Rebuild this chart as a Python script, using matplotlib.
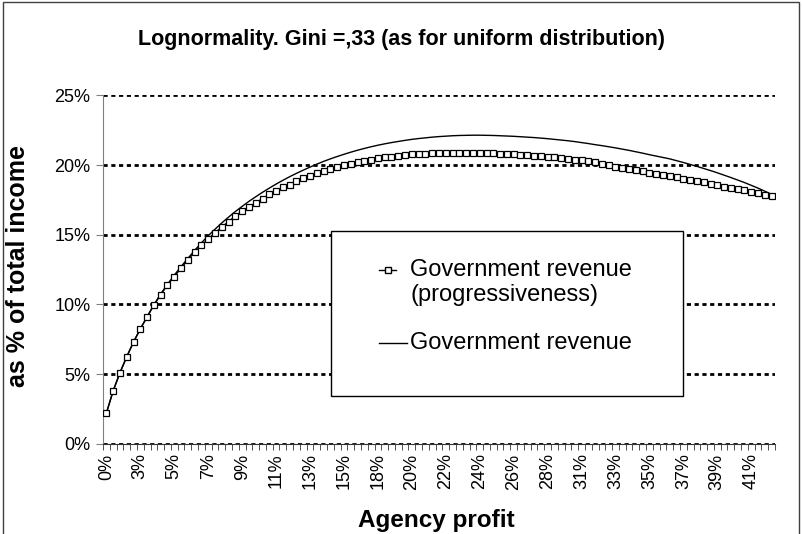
import matplotlib
matplotlib.use("Agg")
import matplotlib.pyplot as plt
from matplotlib.lines import Line2D
from matplotlib.patches import Rectangle
import numpy as np

plt.rcParams["font.family"] = ["Liberation Sans", "DejaVu Sans"]

# labels shown under every 5th category
tick_labels = ["0%", "3%", "5%", "7%", "9%", "11%", "13%", "15%", "18%", "20%",
               "22%", "24%", "26%", "28%", "31%", "33%", "35%", "37%", "39%", "41%"]

# Government revenue (progressiveness), % of total income
rev_prog = [
    2.2, 3.8, 5.1, 6.25, 7.3, 8.25, 9.1, 9.95, 10.7, 11.4,
    12.0, 12.6, 13.2, 13.75, 14.25, 14.7, 15.15, 15.55, 15.95, 16.35,
    16.7, 17.0, 17.3, 17.6, 17.9, 18.15, 18.4, 18.6, 18.85, 19.05,
    19.25, 19.4, 19.6, 19.75, 19.88, 20.0, 20.1, 20.2, 20.3, 20.4,
    20.48, 20.55, 20.62, 20.68, 20.73, 20.77, 20.8, 20.83, 20.86, 20.88,
    20.89, 20.9, 20.9, 20.9, 20.89, 20.88, 20.87, 20.85, 20.83, 20.8,
    20.78, 20.75, 20.72, 20.68, 20.64, 20.6, 20.55, 20.5, 20.45, 20.4,
    20.34, 20.28, 20.2, 20.1, 20.0, 19.9, 19.8, 19.72, 19.64, 19.55,
    19.47, 19.38, 19.3, 19.21, 19.12, 19.03, 18.94, 18.85, 18.76, 18.66,
    18.56, 18.46, 18.36, 18.27, 18.18, 18.08, 17.98, 17.88, 17.77,
]

# Government revenue, % of total income
rev_plain = [
    2.2, 3.8, 5.1, 6.25, 7.3, 8.25, 9.12, 9.98, 10.75, 11.45,
    12.1, 12.72, 13.3, 13.88, 14.42, 14.93, 15.4, 15.85, 16.27, 16.67,
    17.04, 17.4, 17.73, 18.05, 18.35, 18.64, 18.91, 19.17, 19.41, 19.64,
    19.86, 20.07, 20.27, 20.45, 20.62, 20.78, 20.93, 21.07, 21.2, 21.32,
    21.43, 21.53, 21.62, 21.7, 21.78, 21.85, 21.91, 21.96, 22.01, 22.05,
    22.08, 22.11, 22.13, 22.14, 22.15, 22.15, 22.14, 22.13, 22.11, 22.09,
    22.07, 22.04, 22.01, 21.98, 21.94, 21.9, 21.85, 21.8, 21.75, 21.69,
    21.62, 21.55, 21.47, 21.4, 21.32, 21.24, 21.15, 21.06, 20.96, 20.86,
    20.75, 20.65, 20.55, 20.45, 20.32, 20.19, 20.05, 19.91, 19.76, 19.61,
    19.45, 19.28, 19.11, 18.93, 18.75, 18.55, 18.35, 18.13, 17.9,
]

W, H = 802, 534


def fx(x):
    return x / W


def fy(y):
    return 1 - y / H


fig = plt.figure(figsize=(W / 100, H / 100), dpi=100)
ax = fig.add_axes([fx(103), fy(443.7), (775 - 103) / W, (443.7 - 95.5) / H])

n = len(rev_prog)
x = np.arange(n)
ax.plot(x, rev_plain, color="black", lw=1, zorder=2)
ax.plot(x, rev_prog, color="black", lw=1, marker="s", ms=5,
        mfc="white", mec="black", mew=0.9, zorder=3)

ax.set_xlim(-0.5, n - 0.5)
ax.set_ylim(0, 25)
ax.set_yticks(range(0, 26, 5))
ax.set_yticklabels([f"{v}%" for v in range(0, 26, 5)])
ax.yaxis.grid(True, color="black", linestyle=(0, (1.5, 1.3)), lw=2)
ax.set_axisbelow(True)

ax.set_xticks(x[::5])
ax.set_xticklabels(tick_labels, rotation=90)
ax.set_xticks(np.arange(-0.5, n), minor=True)
ax.tick_params(axis="x", which="major", length=0, pad=7, labelsize=13)
ax.tick_params(axis="x", which="minor", length=4, color="#333333")
ax.tick_params(axis="y", length=5, color="#808080", labelsize=13, pad=4)

for s in ["top", "right"]:
    ax.spines[s].set_visible(False)
ax.spines["left"].set_color("#808080")
ax.spines["bottom"].set_color("#333333")

# titles
fig.text(fx(401), fy(40), "Lognormality. Gini =,33 (as for uniform distribution)",
         ha="center", va="center", fontsize=15.5, fontweight="bold")
fig.text(fx(18), fy(266), "as % of total income", rotation=90,
         ha="center", va="center", fontsize=18, fontweight="bold")
fig.text(fx(436), fy(521), "Agency profit", ha="center", va="center",
         fontsize=17.5, fontweight="bold")

# legend box drawn by hand, Excel style
fig.add_artist(Rectangle((fx(331), fy(396)), (683 - 331) / W, (396 - 231) / H,
                         transform=fig.transFigure, fc="white", ec="black",
                         lw=1, zorder=5))
fig.add_artist(Line2D([fx(379), fx(396)], [fy(270), fy(270)], color="black",
                      lw=1, zorder=6))
fig.add_artist(Line2D([fx(387.5)], [fy(270)], color="black", lw=0,
                      marker="s", ms=4.5, mfc="white", mec="black", zorder=7))
fig.add_artist(Line2D([fx(379), fx(407)], [fy(343), fy(343)], color="black",
                      lw=1, zorder=6))
fig.text(fx(410), fy(270), "Government revenue", ha="left", va="center",
         fontsize=17, zorder=7)
fig.text(fx(410), fy(295), "(progressiveness)", ha="left", va="center",
         fontsize=17, zorder=7)
fig.text(fx(410), fy(343), "Government revenue", ha="left", va="center",
         fontsize=17, zorder=7)

# outer chart border
fig.add_artist(Rectangle((fx(3), -0.01), (799 - 3) / W, fy(2) + 0.01,
                         transform=fig.transFigure, fill=False,
                         ec="#404040", lw=1))

fig.savefig("out.png", dpi=100)
